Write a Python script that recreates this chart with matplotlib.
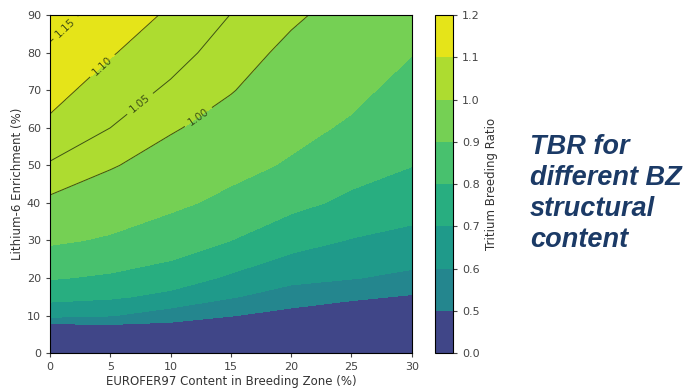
"""
TBR map vs EUROFER97 content and Li-6 enrichment
"""

import numpy as np
import matplotlib
matplotlib.use('Agg')
import matplotlib.pyplot as plt

# -------------------------------------------- #
eurofer = [0, 5, 10, 15, 20, 25, 30]
enrichment = [0, 5, 7.5, 10, 15, 20, 25, 30, 40, 50, 60, 70, 80, 90]

# TBR, one list per EUROFER97 column (rows = enrichment)
tbr_x0 = [0.30, 0.42, 0.48, 0.627, 0.729, 0.807, 0.863, 0.913, 0.988, 1.045, 1.09, 1.117, 1.142, 1.17]
tbr_x5 = [0.30, 0.43, 0.495, 0.605, 0.714, 0.786, 0.84, 0.89, 0.951, 1.0065, 1.05, 1.077, 1.104, 1.128]
tbr_x10 = [0.29, 0.41, 0.48, 0.549, 0.676, 0.747, 0.804, 0.848, 0.919, 0.965, 1.008, 1.042, 1.069, 1.093]
tbr_x15 = [0.28, 0.39, 0.45, 0.504, 0.608, 0.685, 0.744, 0.80, 0.877, 0.928, 0.968, 1.004, 1.027, 1.049]
tbr_x20 = [0.27, 0.37, 0.42, 0.465, 0.552, 0.628, 0.683, 0.737, 0.826, 0.890, 0.925, 0.955, 0.985, 1.01]
tbr_x25 = [0.26, 0.35, 0.39, 0.43, 0.518, 0.605, 0.65, 0.695, 0.779, 0.838, 0.888, 0.921, 0.948, 0.975]
tbr_x30 = [0.25, 0.33, 0.37, 0.41, 0.49, 0.575, 0.63, 0.671, 0.741, 0.802, 0.836, 0.869, 0.903, 0.93]

fill_levels = [0.0, 0.5, 0.6, 0.7, 0.8, 0.9, 1.0, 1.1, 1.2]
line_levels = [1.00, 1.05, 1.10, 1.15]
# -------------------------------------------- #

tbr = np.array([tbr_x0, tbr_x5, tbr_x10, tbr_x15, tbr_x20, tbr_x25, tbr_x30]).T

fig = plt.figure(figsize=(6.84, 3.91), dpi=100)
ax = fig.add_axes([0.073, 0.097, 0.529, 0.864])
cax = fig.add_axes([0.636, 0.097, 0.026, 0.864])

cf = ax.contourf(eurofer, enrichment, tbr, levels=fill_levels, cmap='viridis')
cs = ax.contour(eurofer, enrichment, tbr, levels=line_levels, colors='#2b3a10',
                linewidths=0.7, alpha=0.85)
ax.clabel(cs, fmt='%.2f', fontsize=7.5, inline=True,
          manual=[(1.5, 86), (4.5, 76), (7.7, 65.5), (12.5, 62)])

ax.set_xlim(0, 30)
ax.set_ylim(0, 90)
ax.set_xticks(range(0, 31, 5))
ax.set_yticks(range(0, 91, 10))
ax.tick_params(labelsize=8, length=3, colors='#444444')
ax.set_xlabel('EUROFER97 Content in Breeding Zone (%)', fontsize=8.5, color='#333333', labelpad=2)
ax.set_ylabel('Lithium-6 Enrichment (%)', fontsize=8.5, color='#333333', labelpad=2)

cb = fig.colorbar(cf, cax=cax, ticks=fill_levels)
cb.ax.tick_params(labelsize=8, length=3, colors='#444444')
cb.set_label('Tritium Breeding Ratio', fontsize=8.5, color='#333333')

fig.text(0.775, 0.505, 'TBR for\ndifferent BZ\nstructural\ncontent', fontsize=19.5,
         fontweight='bold', fontstyle='italic', family=['Liberation Sans', 'DejaVu Sans'],
         color='#1b3a66', va='center', ha='left', linespacing=1.25)

plt.savefig('out.png', dpi=100)
